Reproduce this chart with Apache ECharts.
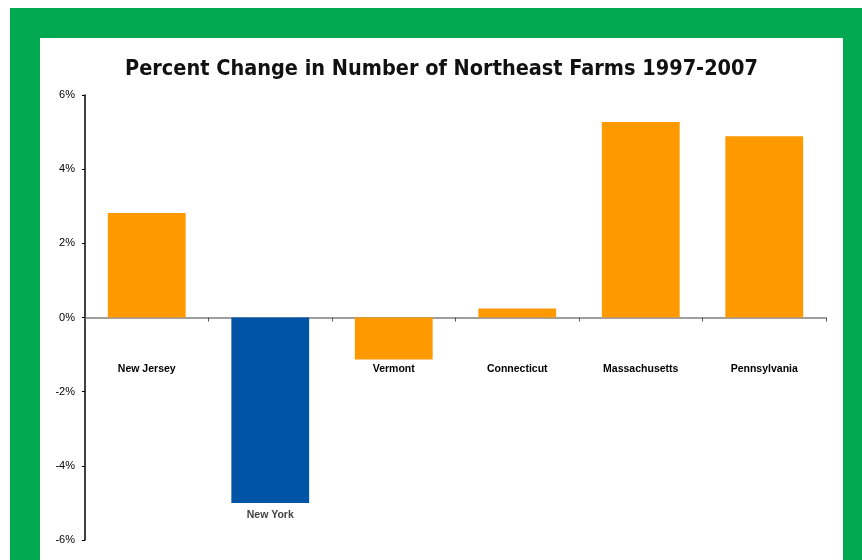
<!DOCTYPE html>
<html>
<head>
<meta charset="utf-8">
<script src="https://cdn.jsdelivr.net/npm/echarts@6/dist/echarts.min.js"></script>
<style>
  html, body { margin: 0; padding: 0; background: #fff; }
  #frame { position: absolute; left: 10px; top: 8px; width: 852px; height: 552px; background: #00a84f; }
  #panel { position: absolute; left: 40px; top: 38px; width: 803px; height: 522px; background: #fff; }
  #chart { width: 803px; height: 522px; }
</style>
</head>
<body>
<div id="frame"></div>
<div id="panel"><div id="chart"></div></div>
<script>
// data
const states = ['New Jersey', 'New York', 'Vermont', 'Connecticut', 'Massachusetts', 'Pennsylvania']
const pctChange = [2.82, -5.0, -1.13, 0.24, 5.27, 4.89]
const yTicks = { min: -6, max: 6, step: 2 }

const orange = '#ff9900'
const blue = '#0054a6'

const chart = echarts.init(document.getElementById('chart'))

const option = {
  animation: false,
  title: {
    text: 'Percent Change in Number of Northeast Farms 1997-2007',
    left: 'center',
    top: 15,
    textStyle: {
      fontFamily: 'DejaVu Sans Condensed',
      fontSize: 21.5,
      fontWeight: 'bold',
      color: '#111'
    }
  },
  grid: { left: 45, right: 17, top: 57, bottom: 20, containLabel: false, outerBoundsMode: 'none' },
  xAxis: {
    type: 'category',
    data: states,
    axisLine: { onZero: true, lineStyle: { color: '#808080', width: 1.5 } },
    axisTick: { show: true, length: 4, lineStyle: { color: '#555' } },
    axisLabel: {
      interval: 0,
      // labels are measured from the grid bottom, pull them up under the zero line
      margin: -176,
      fontFamily: 'Liberation Sans',
      fontSize: 10.5,
      fontWeight: 'bold',
      color: '#000',
      // New York's name sits under its bar instead
      formatter: v => (v === 'New York' ? '' : v)
    }
  },
  yAxis: {
    type: 'value',
    min: yTicks.min,
    max: yTicks.max,
    interval: yTicks.step,
    axisLine: { show: true, lineStyle: { color: '#000', width: 1.5 } },
    axisTick: { show: true, length: 3, lineStyle: { color: '#000' } },
    axisLabel: {
      formatter: '{value}%',
      margin: 10,
      fontFamily: 'Liberation Sans',
      fontSize: 11,
      color: '#000'
    },
    splitLine: { show: false }
  },
  series: [
    {
      type: 'bar',
      barWidth: '63%',
      data: pctChange.map((v, i) => ({
        value: v,
        itemStyle: { color: states[i] === 'New York' ? blue : orange },
        label: states[i] === 'New York' ? {
          show: true,
          position: 'bottom',
          distance: 7,
          formatter: states[i],
          fontFamily: 'Liberation Sans',
          fontSize: 10.5,
          fontWeight: 'bold',
          color: '#444'
        } : { show: false }
      }))
    }
  ]
}

chart.setOption(option)
</script>
</body>
</html>
